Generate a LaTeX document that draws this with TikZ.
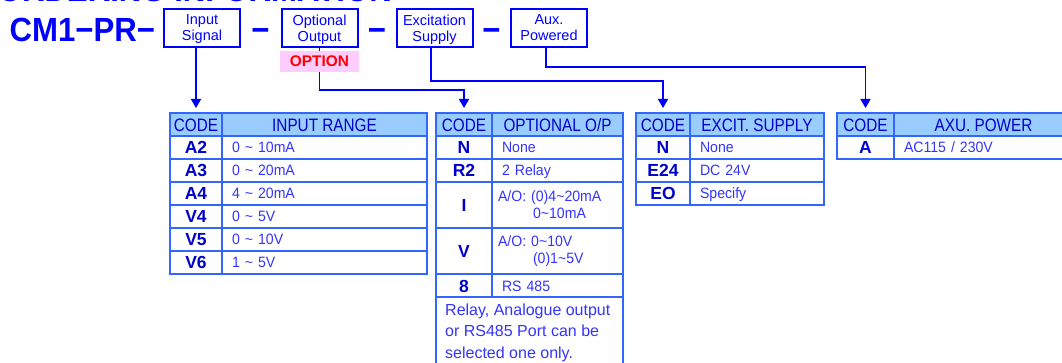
\documentclass[tikz,border=0pt]{standalone}
\usepackage{fontspec}
\setmainfont{Liberation Sans}
\newfontfamily\cmfont{Liberation Sans}[FakeStretch=0.93]
\newfontfamily\headfont{Liberation Sans}[FakeStretch=0.85]
\newfontfamily\valfont{Liberation Sans}[FakeStretch=0.94]
\usetikzlibrary{positioning,arrows.meta}

\definecolor{ordblue}{HTML}{0000FF}
\definecolor{tabline}{HTML}{3366FF}
\definecolor{headfill}{HTML}{99CCFF}
\definecolor{headtxt}{HTML}{0000CC}
\definecolor{codetxt}{HTML}{0000CC}
\definecolor{valtxt}{HTML}{3333FF}
\definecolor{optred}{HTML}{FF0000}
\definecolor{optpink}{HTML}{FFCCFF}

\begin{document}
\begin{tikzpicture}[x=1pt, y=-1pt,
    >={Triangle[length=9pt,width=10pt]},
    feed/.style={draw=ordblue, line width=1.6pt},
    bigtxt/.style={%
      text=ordblue, inner sep=0pt,
      font=\cmfont\bfseries\fontsize{33.5}{36}\selectfont
    },
    topbox/.style={%
      rectangle, draw=ordblue, line width=2pt, text=ordblue,
      minimum width=76pt, minimum height=38pt, inner sep=0pt,
      align=center, text depth=0pt, font=\fontsize{14.5}{16}\selectfont
    },
    optbox/.style={%
      rectangle, fill=optpink, text=optred, minimum width=79pt,
      minimum height=21pt, inner sep=0pt,
      font=\bfseries\fontsize{15.4}{17}\selectfont
    },
    cell/.style={%
      rectangle, draw=tabline, line width=1.6pt, inner sep=0pt,
      outer sep=0pt, minimum height=23pt
    },
    headcell/.style={%
      cell, fill=headfill, text=headtxt, minimum width=#1pt,
      text height=14pt, text depth=0.5pt,
      font=\headfont\fontsize{18}{20}\selectfont
    },
    codecell/.style={%
      cell, text=codetxt, minimum width=#1pt,
      text height=14pt, text depth=1pt,
      font=\bfseries\fontsize{17.5}{19}\selectfont
    },
    valtwo/.style={%
      cell, text=valtxt, text width=#1pt, align=left, inner xsep=10pt,
      font=\valfont\fontsize{15}{17}\selectfont
    },
    valcell/.style={valtwo=#1, text height=12pt, text depth=1pt},
    notetxt/.style={%
      text=valtxt, inner sep=0pt, align=left,
      font=\fontsize{16}{21.5}\selectfont
    }
]
    \useasboundingbox (0,0) rectangle (1062,363);
    \clip (0,0) rectangle (1062,363);

    % heading, cut by the top edge
    \node[bigtxt, anchor=base east] (title) at (392,2) {ORDERING INFORMATION};
    \node[bigtxt, anchor=base west] (model) at (9.5,42) {CM1−PR−};

    % model code fields
    \node[topbox] (insig)  at (202,28)   {Input\\Signal};
    \node[bigtxt, anchor=base] (dash1) at (260.5,42) {−};
    \node[topbox] (optout) at (319.5,28) {Optional\\Output};
    \node[bigtxt, anchor=base] (dash2) at (377,42) {−};
    \node[topbox] (excit)  at (434.5,28) {Excitation\\Supply};
    \node[bigtxt, anchor=base] (dash3) at (491.5,42) {−};
    \node[topbox] (auxpw)  at (549,28)   {Aux.\\Powered};
    \node[optbox] (option) at (319.5,61.5) {OPTION};

    % input range
    \node[headcell=52, anchor=north west] (h1c) at (170,113) {CODE};
    \node[headcell=205, right=0pt of h1c] (h1v) {INPUT RANGE};
    \node[codecell=52, below=0pt of h1c] (a2c) {A2};
    \node[valcell=185, right=0pt of a2c] (a2v) {0 \textasciitilde{} 10mA};
    \node[codecell=52, below=0pt of a2c] (a3c) {A3};
    \node[valcell=185, right=0pt of a3c] (a3v) {0 \textasciitilde{} 20mA};
    \node[codecell=52, below=0pt of a3c] (a4c) {A4};
    \node[valcell=185, right=0pt of a4c] (a4v) {4 \textasciitilde{} 20mA};
    \node[codecell=52, below=0pt of a4c] (v4c) {V4};
    \node[valcell=185, right=0pt of v4c] (v4v) {0 \textasciitilde{} 5V};
    \node[codecell=52, below=0pt of v4c] (v5c) {V5};
    \node[valcell=185, right=0pt of v5c] (v5v) {0 \textasciitilde{} 10V};
    \node[codecell=52, below=0pt of v5c] (v6c) {V6};
    \node[valcell=185, right=0pt of v6c] (v6v) {1 \textasciitilde{} 5V};

    % optional output
    \node[headcell=56, anchor=north west] (h2c) at (436,113) {CODE};
    \node[headcell=131, right=0pt of h2c] (h2v) {OPTIONAL O/P};
    \node[codecell=56, below=0pt of h2c] (n2c) {N};
    \node[valcell=111, right=0pt of n2c] (n2v) {None};
    \node[codecell=56, below=0pt of n2c] (r2c) {R2};
    \node[valcell=111, right=0pt of r2c] (r2v) {2 Relay};
    \node[codecell=56, minimum height=46pt, below=0pt of r2c] (i2c) {I};
    \node[valtwo=111, minimum height=46pt, right=0pt of i2c] (i2v)
      {\hspace*{-4pt}A/O: (0)4\textasciitilde20mA\\\hspace*{31pt}0\textasciitilde10mA};
    \node[codecell=56, minimum height=46pt, below=0pt of i2c] (v2c) {V};
    \node[valtwo=111, minimum height=46pt, right=0pt of v2c] (v2v)
      {\hspace*{-4pt}A/O: 0\textasciitilde10V\\\hspace*{31pt}(0)1\textasciitilde5V};
    \node[codecell=56, below=0pt of v2c] (rs2c) {8};
    \node[valcell=111, right=0pt of rs2c] (rs2v) {RS 485};
    \node[cell, minimum width=187pt, minimum height=76pt, anchor=north west]
      (notebox) at (rs2c.south west) {};
    \node[notetxt, anchor=north west] (notetext)
      at ([xshift=9pt, yshift=-6.5pt]notebox.north west)
      {Relay, Analogue output\\or RS485 Port can be\\selected one only.};

    % excitation supply
    \node[headcell=54, anchor=north west] (h3c) at (636,113) {CODE};
    \node[headcell=134, right=0pt of h3c] (h3v) {EXCIT. SUPPLY};
    \node[codecell=54, below=0pt of h3c] (n3c) {N};
    \node[valcell=114, right=0pt of n3c] (n3v) {None};
    \node[codecell=54, below=0pt of n3c] (e24c) {E24};
    \node[valcell=114, right=0pt of e24c] (e24v) {DC 24V};
    \node[codecell=54, below=0pt of e24c] (eoc) {EO};
    \node[valcell=114, right=0pt of eoc] (eov) {Specify};

    % aux. power
    \node[headcell=57, anchor=north west] (h4c) at (837,113) {CODE};
    \node[headcell=179, right=0pt of h4c] (h4v) {AXU. POWER};
    \node[codecell=57, below=0pt of h4c] (ac) {A};
    \node[valcell=159, right=0pt of ac] (av) {AC115 / 230V};

    % leads from the fields to their tables
    \coordinate (auxknee) at (0,67);
    \coordinate (excknee) at (0,81);
    \coordinate (optknee) at (0,90);
    \draw[feed, ->] (insig.south -| h1c.north) -- ([yshift=5pt]h1c.north);
    \draw[feed] (optout) -- (option);
    \draw[feed, ->] (option.south) |- (optknee -| h2c.north) -- ([yshift=5pt]h2c.north);
    \draw[feed, ->] ([xshift=-3.5pt]excit.south) |- (excknee -| h3c.north)
      -- ([yshift=5pt]h3c.north);
    \draw[feed, ->] ([xshift=-3pt]auxpw.south) |- (auxknee -| h4c.north)
      -- ([yshift=5pt]h4c.north);
\end{tikzpicture}
\end{document}
